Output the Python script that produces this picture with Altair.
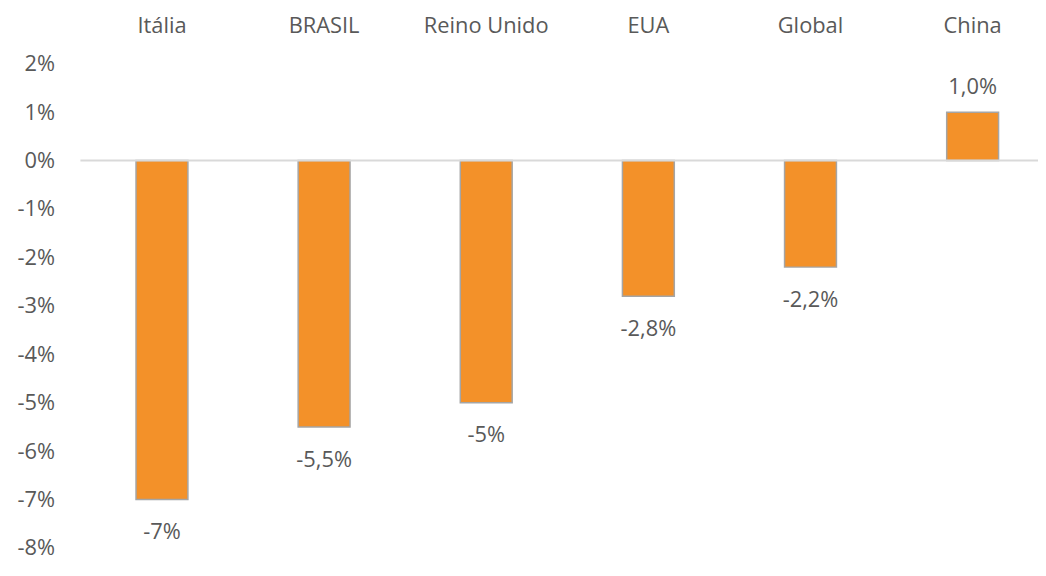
import altair as alt
import pandas as pd

categories = ["Itália", "BRASIL", "Reino Unido", "EUA", "Global", "China"]
values = [-7.0, -5.5, -5.0, -2.8, -2.2, 1.0]
labels = ["-7%", "-5,5%", "-5%", "-2,8%", "-2,2%", "1,0%"]

df = pd.DataFrame({"cat": categories, "val": values, "lab": labels})

FONT = "Open Sans"
TXT = "#595959"
FS = 22

x = alt.X("cat:N", sort=categories, title=None,
          scale=alt.Scale(paddingInner=0.68, paddingOuter=0.293, align=0.585),
          axis=alt.Axis(orient="top", domain=False, ticks=False, labelAngle=0,
                        labelFontSize=FS, labelColor=TXT, labelFont=FONT, labelPadding=26))
y = alt.Y("val:Q", title=None,
          scale=alt.Scale(domain=[-8, 2], nice=False, zero=False),
          axis=alt.Axis(values=list(range(-8, 3)), domain=False, ticks=False, grid=False,
                        labelExpr="datum.value + '%'", labelFontSize=FS, labelColor=TXT,
                        labelFont=FONT, labelPadding=26))

base = alt.Chart(df)
bars = base.mark_bar(color="#F39129", stroke="#A5A5A5", strokeWidth=1.5).encode(
    x=x, y=y, y2=alt.datum(0))
zero = alt.Chart(pd.DataFrame({"z": [0]})).mark_rule(color="#D9D9D9", strokeWidth=2).encode(
    y=alt.Y("z:Q"))
neg = base.transform_filter("datum.val < 0").mark_text(
    fontSize=FS, color=TXT, font=FONT, baseline="middle", dy=33).encode(
    x=alt.X("cat:N", sort=categories), y="val:Q", text="lab:N")
pos = base.transform_filter("datum.val >= 0").mark_text(
    fontSize=FS, color=TXT, font=FONT, baseline="middle", dy=-25).encode(
    x=alt.X("cat:N", sort=categories), y="val:Q", text="lab:N")

chart = alt.layer(bars, zero, neg, pos).properties(
    width=965, height=488,
    autosize=alt.AutoSizeParams(type="none"),
    padding={"left": 73, "top": 54, "right": 0, "bottom": 18},
).configure_view(stroke=None)

chart.save("out.html", embed_options={"renderer": "svg", "actions": False})
